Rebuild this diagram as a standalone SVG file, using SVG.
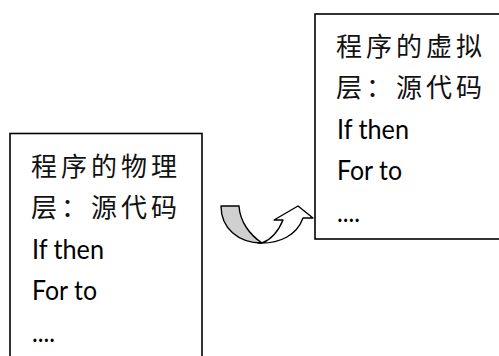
<svg xmlns="http://www.w3.org/2000/svg" width="499" height="356" viewBox="0 0 499 356">
<style>
.box{fill:#fff;stroke:#000;stroke-width:1.6}
.cjk{font-family:"Noto Sans CJK SC","Noto Sans",sans-serif;font-size:26px;letter-spacing:4px;fill:#111}
.lat{font-family:Lato,"Liberation Sans",sans-serif;font-size:27px;fill:#000}
.arr{stroke:#000;stroke-width:1.4;stroke-linejoin:round}
</style>
<rect width="499" height="356" fill="#fff"/>
<g id="physical">
<rect class="box" x="10" y="133.5" width="192" height="240"/>
<text class="cjk" x="31" y="176">程序的物理</text>
<text class="cjk" x="31" y="217">层：源代码</text>
<text class="lat" x="32" y="259" textLength="72" lengthAdjust="spacingAndGlyphs">If then</text>
<text class="lat" x="32" y="300" textLength="65" lengthAdjust="spacingAndGlyphs">For to</text>
<text class="lat" x="32" y="342" textLength="23" lengthAdjust="spacingAndGlyphs">....</text>
</g>
<g id="virtual">
<rect class="box" x="315" y="14" width="200" height="225"/>
<text class="cjk" x="336" y="56">程序的虚拟</text>
<text class="cjk" x="336" y="97">层：源代码</text>
<text class="lat" x="337" y="139" textLength="72" lengthAdjust="spacingAndGlyphs">If then</text>
<text class="lat" x="337" y="180" textLength="65" lengthAdjust="spacingAndGlyphs">For to</text>
<text class="lat" x="337" y="222" textLength="23" lengthAdjust="spacingAndGlyphs">....</text>
</g>
<g id="connectors">
<path class="arr" fill="#d0d0d0" d="M221,206 C221,228 238,243 262,243 C250,235 240,222 239,206 Z"/>
<path class="arr" fill="#fff" d="M258,243 C280,244 297,235 303,218 L313,218 L298,206 L274,220 L283,220 C278,232 270,240 262,243 Z"/>
</g>
</svg>
